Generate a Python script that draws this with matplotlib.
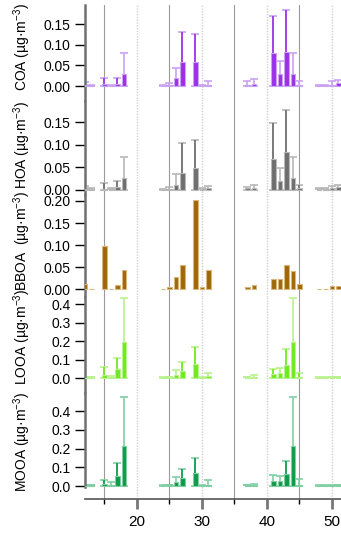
import matplotlib
matplotlib.use('Agg')
import matplotlib.pyplot as plt
import numpy as np

plt.rcParams['font.family'] = ['Liberation Sans', 'DejaVu Sans']
plt.rcParams['mathtext.fontset'] = 'custom'
plt.rcParams['mathtext.rm'] = 'Liberation Sans'
plt.rcParams['mathtext.it'] = 'Liberation Sans'

# m/z channels
mz = [12, 13, 15, 16, 17, 18, 24, 25, 26, 27, 29, 30, 31, 37, 38, 41, 42, 43, 44, 45, 48, 49, 50, 51]

# factor profiles (bar height) and upper end of error bar
coa = [0.003, 0.002, 0.006, 0.001, 0.006, 0.029, 0.001, 0.003, 0.020, 0.059, 0.059, 0.002,
       0.003, 0.003, 0.006, 0.081, 0.029, 0.083, 0.029, 0.003, 0.001, 0.001, 0.003, 0.008]
coa_err = [0.010, 0.003, 0.019, 0.002, 0.020, 0.079, 0.002, 0.008, 0.043, 0.130, 0.125, 0.003,
           0.013, 0.012, 0.016, 0.169, 0.061, 0.184, 0.079, 0.013, 0.002, 0.002, 0.013, 0.015]
coa_dark = [12, 15, 17, 27, 29, 41, 43]

hoa = [0.002, 0.002, 0.002, 0.002, 0.005, 0.026, 0.001, 0.002, 0.010, 0.038, 0.047, 0.002,
       0.004, 0.003, 0.004, 0.069, 0.020, 0.084, 0.026, 0.003, 0.002, 0.002, 0.003, 0.006]
hoa_err = [0.008, 0.003, 0.014, 0.003, 0.019, 0.072, 0.002, 0.005, 0.034, 0.103, 0.111, 0.003,
           0.008, 0.006, 0.010, 0.147, 0.048, 0.177, 0.073, 0.010, 0.003, 0.003, 0.007, 0.010]
hoa_dark = [12, 15, 17, 27, 29, 41, 43, 45]

bboa = [0.011, 0.000, 0.098, 0.001, 0.010, 0.043, 0.001, 0.005, 0.027, 0.055, 0.202, 0.004,
        0.043, 0.005, 0.009, 0.022, 0.022, 0.055, 0.042, 0.011, 0.001, 0.001, 0.007, 0.006]
bboa_err = bboa
bboa_dark = []

looa = [0.002, 0.005, 0.016, 0.004, 0.047, 0.196, 0.002, 0.005, 0.016, 0.040, 0.076, 0.002,
        0.011, 0.007, 0.007, 0.021, 0.025, 0.070, 0.196, 0.008, 0.002, 0.002, 0.006, 0.005]
looa_err = [0.003, 0.006, 0.061, 0.010, 0.106, 0.430, 0.003, 0.006, 0.043, 0.088, 0.170, 0.003,
            0.029, 0.008, 0.014, 0.048, 0.056, 0.157, 0.430, 0.029, 0.003, 0.003, 0.008, 0.007]
looa_dark = [15, 17, 27, 29, 41, 43, 45]

mooa = [0.002, 0.005, 0.009, 0.004, 0.053, 0.213, 0.002, 0.005, 0.023, 0.041, 0.068, 0.002,
        0.008, 0.005, 0.005, 0.027, 0.027, 0.062, 0.213, 0.006, 0.002, 0.002, 0.004, 0.005]
mooa_err = [0.003, 0.006, 0.030, 0.020, 0.121, 0.476, 0.003, 0.006, 0.046, 0.089, 0.151, 0.003,
            0.032, 0.006, 0.010, 0.059, 0.055, 0.133, 0.476, 0.036, 0.003, 0.003, 0.006, 0.007]
mooa_dark = [15, 17, 27, 29, 43]

names = ['COA', 'HOA', 'BBOA', 'LOOA', 'MOOA']
vals = [coa, hoa, bboa, looa, mooa]
errs = [coa_err, hoa_err, bboa_err, looa_err, mooa_err]
darks = [coa_dark, hoa_dark, bboa_dark, looa_dark, mooa_dark]

# styling / layout
dark_c = ['#9B30E8', '#6E6E6E', '#A0660A', '#70EA20', '#0F9A4A']
light_c = ['#C9A2F2', '#B8B8B8', '#D9B77A', '#B9F28E', '#80CFA3']
ylims = [(-0.036, 0.196), (-0.012, 0.197), (-0.018, 0.2136), (-0.081, 0.438), (-0.069, 0.496)]
yticks = [[0, 0.05, 0.10, 0.15], [0, 0.05, 0.10, 0.15], [0, 0.05, 0.10, 0.15, 0.20],
          [0, 0.1, 0.2, 0.3, 0.4], [0, 0.1, 0.2, 0.3, 0.4]]
fmts = ['%.2f', '%.2f', '%.2f', '%.1f', '%.1f']
ylabels = ['COA (µg·m$^{-3}$)', 'HOA (µg·m$^{-3}$)', 'BBOA  (µg·m$^{-3}$)',
           'LOOA (µg·m$^{-3}$)', 'MOOA (µg·m$^{-3}$)']
label_y = [0.56, 0.53, 0.55, 0.58, 0.54]
# panel top/bottom in pixels
px = [(5, 101), (101, 195), (195, 297), (297, 393), (393, 499)]

W, H = 341, 538
fig = plt.figure(figsize=(W / 100, H / 100), dpi=100)
left = 85

for i in range(5):
    top, bot = px[i]
    ax = fig.add_axes([left / W, 1 - bot / H, (W - left) / W, (bot - top) / H])
    ax.set_xlim(12, 51.4)
    ax.set_ylim(*ylims[i])
    for x in [15, 25, 35, 45]:
        ax.axvline(x, color='#9a9a9a', lw=0.8, zorder=0)
    for x in [20, 30, 40, 50]:
        ax.axvline(x, color='#cfcfcf', lw=1.0, ls=(0, (1, 1)), zorder=0)

    v = np.array(vals[i])
    e = np.array(errs[i])
    m = np.array(mz)
    has = e > v
    if has.any():
        up = e[has] - v[has]
        lo = np.minimum(up, v[has])
        ax.errorbar(m[has], v[has], yerr=[lo, up], fmt='none', ecolor=light_c[i],
                    elinewidth=1.2, capsize=2.6, capthick=1.2, zorder=2)
        dk = np.isin(m, darks[i]) & has
        if dk.any():
            ax.vlines(m[dk], v[dk], e[dk], color=dark_c[i], lw=1.2, zorder=3)
    ax.bar(m, v, width=0.65, color=dark_c[i], edgecolor=light_c[i], linewidth=0.8, zorder=4)

    for s in ['top', 'right', 'bottom']:
        ax.spines[s].set_visible(False)
    ax.spines['left'].set_color('#707070')
    ax.spines['left'].set_linewidth(1.8)
    ax.set_yticks(yticks[i])
    ax.set_yticklabels([fmts[i] % t for t in yticks[i]])
    ax.tick_params(axis='y', length=7, width=1, color='black', pad=3.5, labelsize=10)
    ax.set_ylabel(ylabels[i], fontsize=10)
    ax.yaxis.set_label_coords(-0.205, label_y[i])
    if i < 4:
        ax.set_xticks([])
    else:
        ax.spines['left'].set_bounds(-0.003, ylims[i][1])
        ax.spines['bottom'].set_visible(True)
        ax.spines['bottom'].set_color('#555555')
        ax.spines['bottom'].set_linewidth(1.2)
        ax.set_xticks([20, 30, 40, 50])
        ax.set_xticks([15, 25, 35, 45], minor=True)
        ax.tick_params(axis='x', which='major', length=7.5, width=2, color='#777777',
                       labelsize=11, pad=4)
        ax.tick_params(axis='x', which='minor', length=3.5, width=1, color='black')

fig.savefig('out.png', dpi=100)
